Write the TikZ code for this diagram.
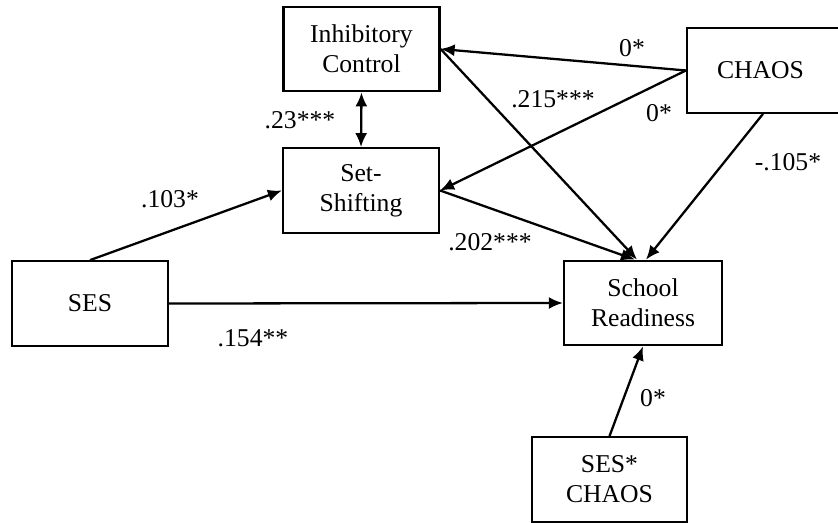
\documentclass[tikz,border=0pt]{standalone}
\usepackage{fontspec}
\setmainfont{Liberation Serif}
\usetikzlibrary{arrows.meta}

\begin{document}
\begin{tikzpicture}[x=0.02cm,y=-0.02cm,
  box/.style={draw,line width=1.3pt,minimum width=3.12cm,minimum height=1.69cm,align=center,inner sep=0pt},
  path/.style={line width=1.3pt,-{Latex[length=0.28cm,width=0.24cm]}},
  font=\fontsize{14.6}{17}\selectfont]

\useasboundingbox (0,0) rectangle (838,523);

% variables
\node[box] (ic) at (361.5,49) {Inhibitory\\Control};
\node[box] (ss) at (361,190.5) {Set-\\Shifting};
\node[box,minimum width=3.16cm,text width=1.96cm,inner xsep=0.6cm,align=left] (chaos) at (766,70.5) {CHAOS};
\node[box] (ses) at (90,303.5) {SES};
\node[box,minimum width=3.16cm] (sr) at (643,303) {School\\Readiness};
\node[box,minimum width=3.1cm] (sc) at (609.5,479.5) {SES*\\CHAOS};

% paths
\draw[path] (chaos.west) -- (ic.east);
\draw[path] (chaos.west) -- (ss.east);
\draw[path,{Latex[length=0.28cm,width=0.24cm]}-{Latex[length=0.28cm,width=0.24cm]}] (ic.south) -- (ss.north);
\draw[path] (ic.east) -- ([xshift=-0.12cm]sr.north);
\draw[path] (ss.east) -- ([xshift=-0.16cm]sr.north);
\draw[path] ([xshift=-0.06cm]chaos.south) -- ([xshift=0.06cm]sr.north);
\draw[path] (ses.north) -- (ss.west);
\draw[path] (ses.east) -- (sr.west);
\draw[path] (sc.north) -- (sr.south);

% estimates
\node (e1) at (632,48) {0*};
\node (e2) at (553,99) {.215***};
\node (e3) at (659,113) {0*};
\node (e4) at (788,162) {-.105*};
\node (e5) at (300,120) {.23***};
\node (e6) at (170,199) {.103*};
\node (e7) at (490,242) {.202***};
\node (e8) at (253,338) {.154**};
\node (e9) at (653,398) {0*};

\end{tikzpicture}
\end{document}
